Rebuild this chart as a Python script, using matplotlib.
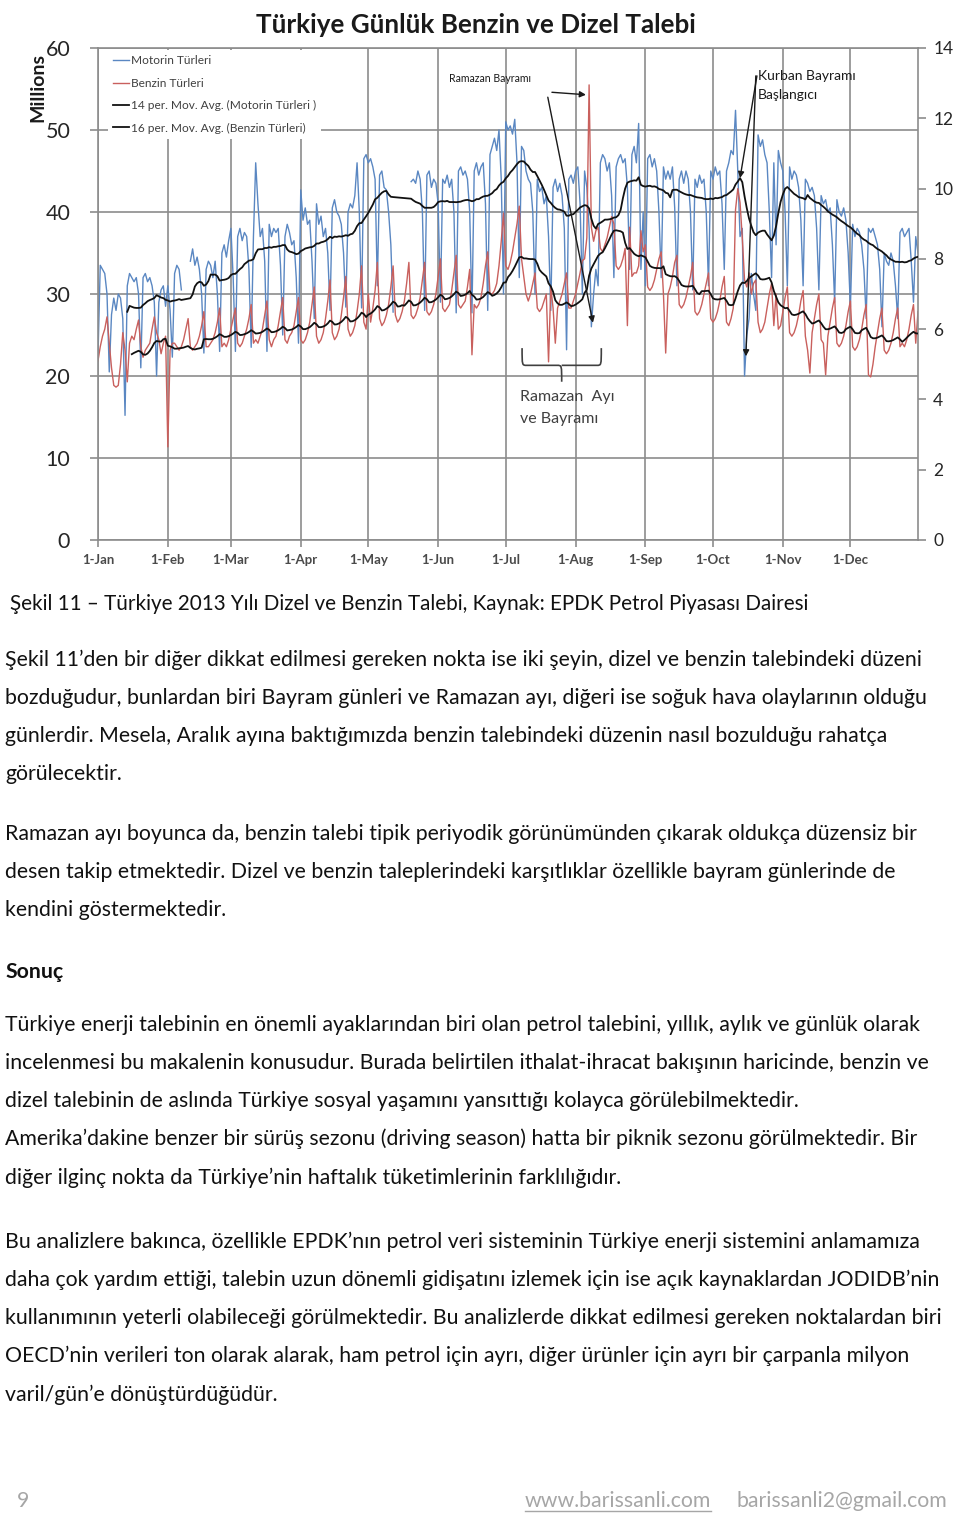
import numpy as np
import pandas as pd
import matplotlib
matplotlib.use('Agg')
import matplotlib.pyplot as plt
import matplotlib.dates as mdates
from matplotlib.path import Path
from matplotlib.patches import PathPatch
from matplotlib.lines import Line2D

nan = np.nan

# daily diesel demand (left axis, millions) 1 Jan - 31 Dec 2013, one row per week (Mon-Sun)
motorin = [
    22.5, 33.5, 33.0, 32.5, 30.0, 20.5,
    27.5, 29.5, 28.0, 30.0, 29.5, 27.0, 15.2,
    31.0, 32.5, 32.0, 31.5, 32.0, 30.0, 21.0,
    32.0, 32.5, 31.5, 32.0, 31.0, 29.0, 20.0,
    29.0, 30.5, 31.0, 28.5, 31.0, 28.0, 22.3,
    32.5, 33.5, 33.0, 30.5, nan, nan, nan,
    34.0, 35.5, 33.5, 34.5, 33.0, 30.0, 22.8,
    33.0, 34.0, 33.5, 32.0, 34.0, 30.0, 23.0,
    35.0, 36.0, 34.5, 36.5, 38.0, 32.0, 23.0,
    37.0, 38.0, 36.5, 37.5, 37.0, 33.0, 23.5,
    37.0, 46.0, 41.0, 37.0, 38.0, 34.0, 23.0,
    38.5, 37.0, 38.0, 37.5, 38.0, 33.5, 25.0,
    37.0, 38.5, 37.5, 36.0, 36.5, 32.0, 24.0,
    42.7, 39.0, 40.5, 38.5, 39.0, 34.0, 27.0,
    41.0, 38.5, 39.5, 37.0, 38.0, 35.0, 28.0,
    40.5, 41.5, 40.0, 39.5, 38.5, 35.0, 28.4,
    40.0, 41.0, 40.5, 42.0, 46.0, 40.0, 28.3,
    46.5, 47.0, 46.0, 46.5, 45.5, 44.0, 31.0,
    44.5, 45.0, 43.0, 42.7, 40.0, 36.0, 27.8,
    nan, nan, nan, nan, nan, nan, nan,
    43.7, 44.0, 43.5, 45.0, 44.0, 40.0, 28.0,
    44.5, 45.0, 43.0, 44.0, 43.5, 41.0, 29.0,
    44.0, 43.5, 44.5, 43.0, 44.0, 40.0, 27.7,
    45.0, 45.5, 44.5, 45.0, 44.0, 40.0, 27.7,
    45.0, 46.0, 44.5, 45.5, 46.0, 41.0, 28.0,
    47.0, 48.0, 49.0, 47.5, 50.0, 44.0, 30.0,
    51.0, 50.0, 50.5, 49.5, 51.3, 46.0, 32.0,
    48.0, 47.5, 45.0, 44.0, 43.5, 40.0, 30.0,
    44.0, 42.5, 43.0, 41.0, 42.0, 37.0, 28.0,
    43.0, 44.0, 42.5, 43.5, 42.0, 38.0, 23.2,
    44.0, 44.5, 43.5, 45.0, 45.5, 41.0, 30.0,
    45.0, 43.0, 38.0, 26.0, 30.0, 33.0, 31.0,
    46.0, 47.0, 46.5, 45.0, 46.0, 42.0, 32.0,
    45.5, 46.5, 47.0, 46.0, 46.5, 43.0, 33.0,
    47.0, 48.0, 46.0, 50.8, 33.0, 40.0, 31.0,
    46.5, 47.0, 45.5, 46.5, 45.0, 40.0, 32.0,
    45.5, 44.0, 45.0, 44.0, 45.5, 40.5, 31.0,
    44.0, 45.0, 43.5, 45.0, 44.0, 40.0, 30.5,
    44.0, 43.0, 44.5, 43.5, 44.0, 40.0, 31.0,
    45.0, 44.0, 45.5, 44.5, 45.0, 41.0, 33.0,
    45.0, 46.0, 47.5, 47.0, 52.4, 45.0, 37.0,
    38.0, 20.0, 25.0, 27.0, 32.5, 30.0, 28.0,
    49.4, 48.0, 48.8, 47.0, 46.0, 40.0, 32.0,
    46.0, 36.0, 47.5, 46.0, 45.0, 40.0, 31.0,
    45.5, 44.0, 45.0, 44.5, 43.0, 39.0, 31.0,
    44.0, 43.5, 42.5, 43.0, 42.0, 38.0, 30.5,
    42.0, 41.0, 41.5, 40.0, 40.5, 36.0, 29.0,
    41.5, 40.0, 39.5, 40.5, 39.0, 35.0, 28.4,
    38.5, 37.0, 38.0, 37.5, 36.0, 33.0, 27.0,
    38.0, 37.5, 38.0, 37.0, 36.0, 33.0, 26.0,
    35.0, 34.0, 33.5, 35.0, 34.0, 31.0, 27.0,
    37.5, 38.0, 37.0, 37.5, 38.0, 34.0, 29.0,
    37.0, 35.0,
]

# daily gasoline demand (right axis, millions)
benzin = [
    5.1, 5.5, 5.8, 6.0, 6.35, 5.6,
    4.9, 4.4, 4.35, 4.4, 5.0, 5.9, 5.4,
    4.5, 5.6, 5.8, 5.7, 6.0, 6.26, 5.5,
    5.2, 5.4, 5.5, 5.6, 6.0, 6.35, 5.9,
    5.7, 5.3, 5.6, 5.8, 2.65, 5.4, 5.6,
    5.6, 5.5, 5.4, 5.5, 5.7, 6.0, 6.3,
    5.5, 5.4, 5.5, 5.6, 5.8, 6.1, 6.5,
    5.5, 5.5, 5.6, 5.7, 5.9, 6.2, 6.6,
    5.5, 5.6, 5.5, 5.7, 6.0, 6.3, 6.6,
    5.6, 5.5, 5.6, 5.8, 6.0, 6.3, 6.7,
    5.6, 5.7, 5.6, 5.8, 6.0, 6.4, 6.8,
    5.7, 5.5, 5.7, 5.8, 6.1, 6.5, 6.9,
    5.7, 5.6, 5.8, 5.9, 6.1, 6.5, 6.9,
    5.7, 5.6, 5.7, 5.9, 6.2, 6.7, 7.2,
    5.8, 5.6, 5.7, 5.9, 6.3, 6.8, 7.4,
    5.9, 5.7, 5.8, 6.0, 6.4, 6.9, 7.5,
    6.0, 5.8, 5.9, 6.1, 6.5, 7.0, 7.8,
    6.2, 6.0, 7.0, 6.2, 6.6, 7.1, 7.9,
    6.3, 6.1, 6.2, 6.4, 6.7, 7.2, 7.8,
    6.4, 6.2, 6.3, 6.5, 6.8, 7.3, 7.9,
    6.4, 6.3, 6.4, 6.6, 6.9, 7.4, 7.9,
    6.5, 6.4, 6.5, 6.7, 7.0, 7.5, 8.0,
    6.6, 6.5, 6.6, 6.7, 7.1, 7.6, 8.1,
    6.7, 6.6, 6.7, 6.8, 7.2, 7.7, 5.27,
    6.7, 6.6, 6.7, 6.9, 7.3, 7.8, 8.2,
    7.0, 7.0, 7.1, 7.3, 7.8, 8.5, 9.3,
    7.8, 7.7, 7.9, 8.2, 8.6, 9.0, 9.5,
    8.0, 7.5, 7.0, 6.8, 7.0, 7.3, 7.6,
    6.6, 6.5, 6.6, 6.8, 7.0, 5.07, 7.2,
    6.6, 5.6, 6.6, 6.8, 7.0, 7.3, 7.6,
    6.6, 6.6, 6.8, 7.0, 7.3, 7.6, 7.95,
    8.0, 8.6, 12.95, 8.9, 8.5, 8.8, 8.9,
    8.3, 8.2, 8.4, 8.6, 8.9, 9.2, 9.0,
    7.8, 7.7, 7.8, 8.0, 8.3, 6.1, 8.9,
    7.5, 7.6, 7.6, 7.8, 8.8, 8.2, 8.4,
    7.2, 7.1, 7.2, 7.4, 7.7, 8.0, 8.2,
    7.0, 5.32, 7.0, 7.2, 7.5, 7.9, 8.1,
    6.7, 6.6, 6.7, 6.9, 7.2, 7.5, 7.9,
    6.5, 6.4, 6.5, 6.7, 7.0, 7.3, 7.6,
    6.3, 6.2, 6.3, 6.5, 6.8, 7.2, 7.5,
    6.2, 6.1, 6.3, 6.6, 9.4, 10.0, 9.6,
    8.6, 7.4, 7.2, 7.6, 7.0, 7.3, 7.4,
    6.2, 5.9, 6.0, 6.2, 6.6, 7.0, 7.3,
    6.1, 7.0, 6.0, 6.1, 6.5, 6.9, 7.2,
    5.9, 5.8, 5.9, 6.1, 6.4, 6.8, 7.1,
    5.8, 5.4, 4.75, 5.9, 6.3, 6.7, 7.0,
    5.7, 5.6, 4.7, 5.8, 6.2, 6.6, 6.9,
    5.6, 5.5, 5.6, 5.8, 6.1, 6.5, 6.8,
    5.5, 5.4, 5.5, 5.7, 6.0, 6.4, 6.7,
    4.7, 4.64, 5.0, 5.5, 5.9, 6.3, 6.6,
    5.4, 5.3, 5.4, 5.6, 5.9, 6.3, 6.6,
    5.5, 5.6, 5.5, 5.7, 6.0, 6.4, 6.7,
    5.6, 6.5,
]

legend_labels = ['Motorin Türleri', 'Benzin Türleri',
                 '14 per. Mov. Avg. (Motorin Türleri )',
                 '16 per. Mov. Avg. (Benzin Türleri)']
bayram_ramazan = pd.Timestamp('2013-08-08')
bayram_kurban = pd.Timestamp('2013-10-15')

caption = 'Şekil 11 – Türkiye 2013 Yılı Dizel ve Benzin Talebi, Kaynak: EPDK Petrol Piyasası Dairesi'
body = [
    (666, 'Şekil 11’den bir diğer dikkat edilmesi gereken nokta ise iki şeyin, dizel ve benzin talebindeki düzeni'),
    (704, 'bozduğudur, bunlardan biri Bayram günleri ve Ramazan ayı, diğeri ise soğuk hava olaylarının olduğu'),
    (742, 'günlerdir. Mesela, Aralık ayına baktığımızda benzin talebindeki düzenin nasıl bozulduğu rahatça'),
    (780, 'görülecektir.'),
    (840, 'Ramazan ayı boyunca da, benzin talebi tipik periyodik görünümünden çıkarak oldukça düzensiz bir'),
    (878, 'desen takip etmektedir. Dizel ve benzin taleplerindeki karşıtlıklar özellikle bayram günlerinde de'),
    (916, 'kendini göstermektedir.'),
    (1031, 'Türkiye enerji talebinin en önemli ayaklarından biri olan petrol talebini, yıllık, aylık ve günlük olarak'),
    (1069, 'incelenmesi bu makalenin konusudur. Burada belirtilen ithalat-ihracat bakışının haricinde, benzin ve'),
    (1107, 'dizel talebinin de aslında Türkiye sosyal yaşamını yansıttığı kolayca görülebilmektedir.'),
    (1145, 'Amerika’dakine benzer bir sürüş sezonu (driving season) hatta bir piknik sezonu görülmektedir. Bir'),
    (1184, 'diğer ilginç nokta da Türkiye’nin haftalık tüketimlerinin farklılığıdır.'),
    (1248, 'Bu analizlere bakınca, özellikle EPDK’nın petrol veri sisteminin Türkiye enerji sistemini anlamamıza'),
    (1286, 'daha çok yardım ettiği, talebin uzun dönemli gidişatını izlemek için ise açık kaynaklardan JODIDB’nin'),
    (1324, 'kullanımının yeterli olabileceği görülmektedir. Bu analizlerde dikkat edilmesi gereken noktalardan biri'),
    (1362, 'OECD’nin verileri ton olarak alarak, ham petrol için ayrı, diğer ürünler için ayrı bir çarpanla milyon'),
    (1401, 'varil/gün’e dönüştürdüğüdür.'),
]

assert len(motorin) == 365 and len(benzin) == 365

plt.rcParams['font.family'] = ['Lato', 'DejaVu Sans']
W, H = 960, 1516
fig = plt.figure(figsize=(W / 100, H / 100), dpi=100)
fig.patch.set_facecolor('white')


def fx(px):
    return px / W


def fy(py):
    return 1 - py / H


ax = fig.add_axes([fx(98), fy(540), 820 / W, 492 / H])
ax2 = ax.twinx()
ax.set_ylim(0, 60)
ax2.set_ylim(0, 14)

dates = pd.date_range('2013-01-01', periods=365, freq='D')
s_mot = pd.Series(motorin, index=dates)
s_ben = pd.Series(benzin, index=dates)
ma_mot = s_mot.dropna().rolling(14).mean().dropna()
ma_ben = s_ben.dropna().rolling(16).mean().dropna()

# everything drawn on ax, benzin through the right axis scale
l1, = ax.plot(dates, s_mot.values, color='#5a87c2', lw=1.0, zorder=2)
l2, = ax.plot(dates, s_ben.values, color='#c9605d', lw=1.0, zorder=2,
              transform=ax2.transData)
l3, = ax.plot(ma_mot.index, ma_mot.values, color='#111111', lw=1.3, zorder=3)
l4, = ax.plot(ma_ben.index, ma_ben.values, color='#111111', lw=1.3, zorder=3,
              transform=ax2.transData)

ax.set_xlim(dates[0], dates[-1])
ax.set_ylim(0, 60)
ax2.set_ylim(0, 14)

grid_c = '#8c8c8c'
ax.set_yticks(range(0, 61, 10))
ax2.set_yticks(range(0, 15, 2))
ax.set_xticks(pd.date_range('2013-01-01', periods=12, freq='MS'))
ax.xaxis.set_major_formatter(mdates.DateFormatter('%-d-%b'))
ax.grid(True, color=grid_c, lw=1.2)
ax.set_axisbelow(True)
for sp in ax.spines.values():
    sp.set_color(grid_c)
    sp.set_linewidth(1.2)
for sp in ax2.spines.values():
    sp.set_visible(False)

ax.tick_params(axis='y', length=6, width=1.2, color=grid_c, pad=14,
               labelsize=15.5, labelcolor='#262626')
ax.tick_params(axis='x', length=5, width=1.2, color=grid_c, pad=5,
               labelsize=9.5, labelcolor='#4a4a4a')
for lab in ax.get_xticklabels():
    lab.set_fontweight('bold')
ax2.tick_params(axis='y', length=6, width=1.2, color=grid_c, pad=5,
                labelsize=12.5, labelcolor='#262626')

ax.set_ylabel('Millions', fontsize=14, fontweight='bold', color='#1a1a1a')
ax.yaxis.set_label_coords((46 - 98) / 820, 1 - (88 - 48) / 492)

leg = ax.legend([l1, l2, l3, l4], legend_labels, loc='upper left',
                bbox_to_anchor=((108 - 98) / 820, 1 - (50 - 48) / 492),
                fontsize=8.6, frameon=True, fancybox=False, edgecolor='none',
                facecolor='white', framealpha=1, handlelength=1.3,
                handletextpad=0.15, borderpad=0.45, labelspacing=0.95,
                borderaxespad=0, labelcolor='#404040')
leg.set_zorder(10)


def dn(ts):
    return mdates.date2num(pd.Timestamp(ts))


day = pd.Timedelta(days=1)
r2l = 60 / 14
arrow = dict(arrowstyle='-|>', color='#1a1a1a', lw=1.0, mutation_scale=9,
             shrinkA=0, shrinkB=0)

# Ramazan Bayrami
spike_day = s_ben.idxmax()
ax.text(dn('2013-06-05 18:00'), 56.3, 'Ramazan Bayramı', fontsize=7.6,
        color='#1a1a1a', va='center', ha='left')
ax.annotate('', xy=(dn(spike_day - 1.4 * day), s_ben.max() * r2l - 1.2),
            xytext=(dn('2013-07-21 12:00'), 54.6), arrowprops=arrow)
ax.annotate('', xy=(dn(bayram_ramazan + 0.7 * day), s_mot[bayram_ramazan] + 0.5),
            xytext=(dn('2013-07-19 16:00'), 54.0), arrowprops=arrow)

# Kurban Bayrami
ax.text(dn('2013-10-21'), 56.6, 'Kurban Bayramı', fontsize=10,
        color='#1a1a1a', va='center', ha='left')
ax.text(dn('2013-10-21'), 54.3, 'Başlangıcı', fontsize=10,
        color='#1a1a1a', va='center', ha='left')
peak_ma = ma_mot[bayram_kurban - 2 * day]
ax.annotate('', xy=(dn(bayram_kurban - 2 * day), peak_ma),
            xytext=(dn('2013-10-20 12:00'), 56.6), arrowprops=arrow)
ax.annotate('', xy=(dn(bayram_kurban + 0.6 * day), s_mot[bayram_kurban] + 2.4),
            xytext=(dn('2013-10-20'), 56.6), arrowprops=arrow)

# Ramazan brace
xl, xr = dn('2013-07-08 06:00'), dn('2013-08-12 10:00')
xm = (xl + xr) / 2
ytop, ybar, ytip = 23.4, 21.3, 19.3
r = 2.0
verts = [(xl, ytop), (xl, ybar), (xl, ybar), (xl + r, ybar),
         (xm - r, ybar), (xm, ybar), (xm, ybar), (xm, ytip),
         (xm, ybar), (xm, ybar), (xm, ybar), (xm + r, ybar),
         (xr - r, ybar), (xr, ybar), (xr, ybar), (xr, ytop)]
codes = [Path.MOVETO, Path.CURVE4, Path.CURVE4, Path.CURVE4,
         Path.LINETO, Path.CURVE4, Path.CURVE4, Path.CURVE4,
         Path.MOVETO, Path.CURVE4, Path.CURVE4, Path.CURVE4,
         Path.LINETO, Path.CURVE4, Path.CURVE4, Path.CURVE4]
ax.add_patch(PathPatch(Path(verts, codes), fill=False, edgecolor='#404040',
                       lw=1.2, zorder=4))
ax.text(dn('2013-07-07 08:00'), 17.4, 'Ramazan  Ayı', fontsize=11.5,
        color='#404040', va='center', ha='left')
ax.text(dn('2013-07-07 08:00'), 14.75, 've Bayramı', fontsize=11.5,
        color='#404040', va='center', ha='left')

# title
renderer = fig.canvas.get_renderer()
title = fig.text(fx(476), fy(33), 'Türkiye Günlük Benzin ve Dizel Talebi',
                 fontsize=18, fontweight='bold', color='#1a1a1a',
                 ha='center', va='baseline')
tw = title.get_window_extent(renderer).width
title.set_fontsize(18 * 440 / tw)

# page text
txt_c = '#111111'
cap = fig.text(fx(10), fy(610), caption, fontsize=14, color=txt_c, va='baseline')
cw = cap.get_window_extent(renderer).width
cap.set_fontsize(14 * 802 / cw)

texts = [fig.text(fx(5), fy(y), line, fontsize=14, color=txt_c, va='baseline')
         for y, line in body]
bw = texts[0].get_window_extent(renderer).width
fs = 14 * 920 / bw
for t in texts:
    t.set_fontsize(fs)
fig.text(fx(5), fy(978), 'Sonuç', fontsize=fs, color=txt_c, va='baseline',
         fontweight='bold')

foot_c = '#a6a6a6'
fig.text(fx(17), fy(1507), '9', fontsize=fs, color=foot_c, va='baseline')
www = fig.text(fx(525), fy(1507), 'www.barissanli.com', fontsize=fs,
               color=foot_c, va='baseline')
fig.text(fx(736), fy(1507), 'barissanli2@gmail.com', fontsize=fs,
         color=foot_c, va='baseline')
wb = www.get_window_extent(renderer)
fig.add_artist(Line2D([wb.x0 / W, wb.x1 / W], [fy(1511), fy(1511)],
                      color=foot_c, lw=1.0, transform=fig.transFigure))

fig.savefig('out.png', dpi=100, facecolor='white')
